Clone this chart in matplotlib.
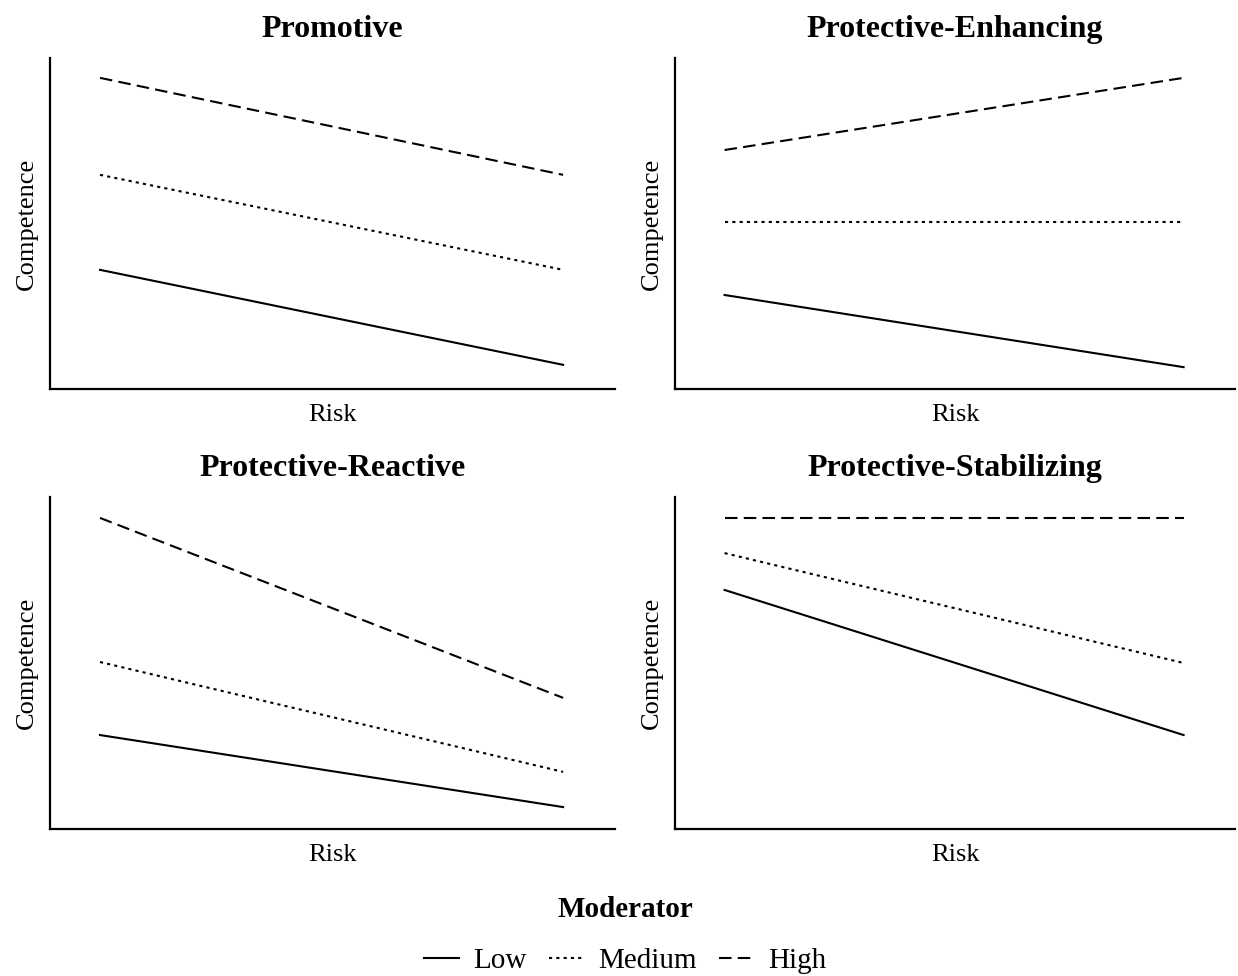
import matplotlib
matplotlib.use("Agg")
import matplotlib.pyplot as plt
from matplotlib.lines import Line2D

plt.rcParams["font.family"] = ["Liberation Serif", "DejaVu Serif"]

# risk levels (low risk, high risk)
risk = [0, 1]

titles = ["Promotive", "Protective-Enhancing", "Protective-Reactive", "Protective-Stabilizing"]

# competence at low / high risk for each moderator level
low = [[3.6, 0.73], [2.84, 0.66], [2.83, 0.66], [7.2, 2.83]]
medium = [[6.47, 3.6], [5.05, 5.05], [5.03, 1.72], [8.31, 5.0]]
high = [[9.4, 6.47], [7.22, 9.4], [9.37, 3.95], [9.37, 9.37]]

levels = ["Low", "Medium", "High"]
styles = ["-", (0, (1.5, 2)), (0, (6, 3))]

fig = plt.figure(figsize=(12.38, 9.76), dpi=100)
W, H = 1238, 976
boxes = [(50, 58, 615, 389), (675, 58, 1235, 389),
         (50, 497, 615, 829), (675, 497, 1235, 829)]

for i, (x0, y0, x1, y1) in enumerate(boxes):
    ax = fig.add_axes([x0 / W, 1 - y1 / H, (x1 - x0) / W, (y1 - y0) / H])
    for vals, ls in zip([low[i], medium[i], high[i]], styles):
        ax.plot(risk, vals, color="black", lw=1.5, linestyle=ls)
    ax.set_xlim(-0.108, 1.112)
    ax.set_ylim(0, 10)
    ax.set_xticks([])
    ax.set_yticks([])
    for s in ["top", "right"]:
        ax.spines[s].set_visible(False)
    for s in ["left", "bottom"]:
        ax.spines[s].set_linewidth(1.6)
    ax.set_title(titles[i], fontsize=23, fontweight="bold", pad=15)
    ax.set_xlabel("Risk", fontsize=19, labelpad=11)
    ax.set_ylabel("Competence", fontsize=19, labelpad=9)

handles = [Line2D([0], [0], color="black", lw=1.5, linestyle=ls) for ls in styles]
leg = fig.legend(handles, levels, loc="center", bbox_to_anchor=(0.505, 1 - 935 / H),
                 ncol=3, frameon=False, fontsize=21, title="Moderator",
                 handlelength=1.2, columnspacing=0.75, handletextpad=0.5)
leg.get_title().set_fontsize(21)
leg.get_title().set_fontweight("bold")
leg._legend_box.sep = 18

fig.savefig("out.png", dpi=100)
